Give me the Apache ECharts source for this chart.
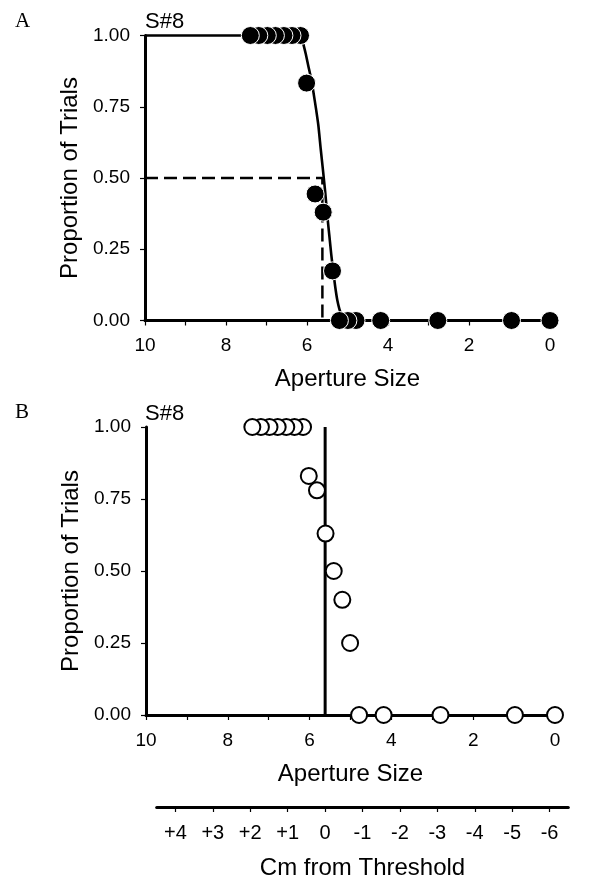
<!DOCTYPE html>
<html><head><meta charset="utf-8">
<script src="https://cdn.jsdelivr.net/npm/echarts@6/dist/echarts.min.js"></script>
<style>html,body{margin:0;padding:0;background:#fff}#c{width:600px;height:884px}</style>
</head><body><div id="c"></div>
<script>
// ---- data ----
const apertureA = [0, 0.95, 2.77, 4.18, 4.79, 4.99, 5.20, 5.37, 5.60, 5.80, 6.01, 6.16, 6.37, 6.57, 6.78, 6.98, 7.19, 7.40];
const proportionA = [0, 0, 0, 0, 0, 0, 0, 0.174, 0.38, 0.444, 0.833, 1, 1, 1, 1, 1, 1, 1];
const curveX = [10, 6.15, 6.09, 6.03, 5.97, 5.90, 5.84, 5.78, 5.72, 5.66, 5.60, 5.55, 5.50, 5.45, 5.40, 5.35, 5.30, 5.25, 5.20, 5.15, 5.10, 5.04, 0];
const curveY = [1, 1, 0.97, 0.935, 0.895, 0.85, 0.80, 0.745, 0.685, 0.60, 0.52, 0.45, 0.37, 0.30, 0.23, 0.17, 0.115, 0.07, 0.04, 0.02, 0.008, 0, 0];
const apertureB = [0, 0.98, 2.80, 4.19, 4.79, 5.01, 5.20, 5.41, 5.61, 5.82, 6.02, 6.16, 6.37, 6.57, 6.78, 6.98, 7.19, 7.40];
const proportionB = [0, 0, 0, 0, 0, 0.25, 0.40, 0.50, 0.63, 0.78, 0.83, 1, 1, 1, 1, 1, 1, 1];
const threshold = 5.62;
const cmTicks = [4, 3, 2, 1, 0, -1, -2, -3, -4, -5, -6];
const subjectLabel = 'S#8';

const FONT = '"Liberation Sans", Arial, sans-serif';
const zip = (a, b) => a.map((v, i) => [v, b[i]]);

function apertureAxis(gi) {
  return {
    type: 'value', gridIndex: gi, min: 0, max: 10, interval: 1, inverse: true,
    axisLine: { show: true, onZero: false, lineStyle: { color: '#000', width: 3 } },
    axisTick: { show: true, length: 5, lineStyle: { color: '#000', width: 1.2 } },
    axisLabel: { formatter: v => (v % 2 === 0 ? String(v) : ''), fontSize: 19, color: '#000', margin: 16, fontFamily: FONT },
    splitLine: { show: false },
    name: 'Aperture Size', nameLocation: 'middle', nameGap: 47,
    nameTextStyle: { fontSize: 24, color: '#000', fontFamily: FONT }
  };
}
function propAxis(gi) {
  return {
    type: 'value', gridIndex: gi, min: 0, max: 1, interval: 0.25,
    axisLine: { show: true, onZero: false, lineStyle: { color: '#000', width: 3 } },
    axisTick: { show: true, length: 5, lineStyle: { color: '#000', width: 1.2 } },
    axisLabel: { formatter: v => v.toFixed(2), fontSize: 19, color: '#000', margin: 15, fontFamily: FONT },
    splitLine: { show: false },
    name: 'Proportion of Trials', nameLocation: 'middle', nameGap: 62, nameRotate: 90,
    nameTextStyle: { fontSize: 24, color: '#000', fontFamily: FONT }
  };
}

const chart = echarts.init(document.getElementById('c'), null, { renderer: 'canvas' });
chart.setOption({
  backgroundColor: '#fff',
  animation: false,
  grid: [
    { left: 145, top: 35.5, width: 405, height: 285 },
    { left: 146, top: 427, width: 409, height: 288 },
    { left: 156.7, top: 806, width: 411.6, height: 1 }
  ],
  xAxis: [
    apertureAxis(0),
    apertureAxis(1),
    {
      type: 'value', gridIndex: 2, min: -6.5, max: 4.5, inverse: true,
      axisLine: { show: true, onZero: false, lineStyle: { color: '#000', width: 3 } },
      axisTick: { show: true, length: 5, customValues: cmTicks, lineStyle: { color: '#000', width: 1.2 } },
      axisLabel: { customValues: cmTicks, formatter: v => (v > 0 ? '+' + v : String(v)), fontSize: 20, color: '#000', margin: 16, fontFamily: FONT },
      splitLine: { show: false },
      name: 'Cm from Threshold', nameLocation: 'middle', nameGap: 49,
      nameTextStyle: { fontSize: 24, color: '#000', fontFamily: FONT }
    }
  ],
  yAxis: [
    propAxis(0),
    propAxis(1),
    { type: 'value', gridIndex: 2, min: 0, max: 1, show: false }
  ],
  graphic: [
    { type: 'text', left: 15, top: 11, style: { text: 'A', font: '21px "Liberation Serif", "Times New Roman", serif', fill: '#000' } },
    { type: 'text', left: 145, top: 11, style: { text: subjectLabel, font: '22px ' + FONT, fill: '#000' } },
    { type: 'text', left: 15, top: 402, style: { text: 'B', font: '21px "Liberation Serif", "Times New Roman", serif', fill: '#000' } },
    { type: 'text', left: 145, top: 403, style: { text: subjectLabel, font: '22px ' + FONT, fill: '#000' } }
  ],
  series: [
    {
      type: 'line', xAxisIndex: 0, yAxisIndex: 0, data: zip(curveX, curveY),
      showSymbol: false, clip: false, smooth: 0.2, z: 2,
      lineStyle: { color: '#000', width: 2.6 }
    },
    {
      type: 'line', xAxisIndex: 0, yAxisIndex: 0,
      data: [[10, 0.5], [threshold, 0.5], [threshold, 0]],
      showSymbol: false, clip: false, z: 2,
      lineStyle: { color: '#000', width: 2.5, type: [13, 6] }
    },
    {
      type: 'scatter', xAxisIndex: 0, yAxisIndex: 0, data: zip(apertureA, proportionA),
      symbol: 'circle', symbolSize: 18, clip: false, z: 3,
      itemStyle: { color: '#000', borderColor: '#fff', borderWidth: 1, opacity: 1 }
    },
    {
      type: 'line', xAxisIndex: 1, yAxisIndex: 1,
      data: [[threshold, 1], [threshold, 0]],
      showSymbol: false, clip: false, z: 2,
      lineStyle: { color: '#000', width: 3 }
    },
    {
      type: 'scatter', xAxisIndex: 1, yAxisIndex: 1, data: zip(apertureB, proportionB),
      symbol: 'circle', symbolSize: 16, clip: false, z: 3,
      itemStyle: { color: '#fff', borderColor: '#000', borderWidth: 2, opacity: 1 }
    }
  ]
});
</script>
</body></html>
